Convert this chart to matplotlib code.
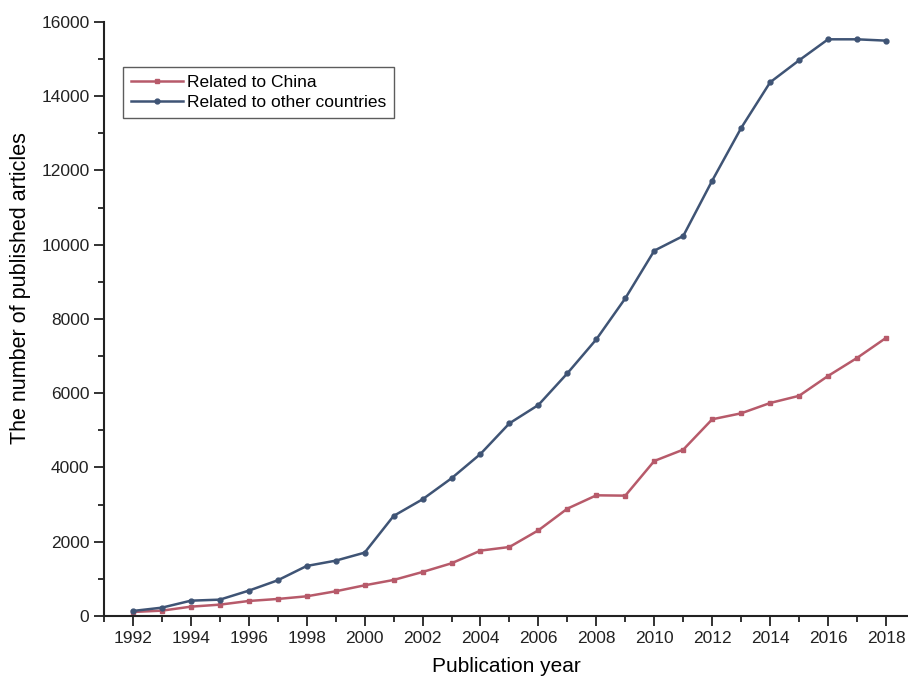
import matplotlib
matplotlib.use('Agg')
import matplotlib.pyplot as plt
import numpy as np
from matplotlib.ticker import MultipleLocator

plt.rcParams['font.family'] = ['Liberation Sans', 'DejaVu Sans']

years = list(range(1992, 2019))
china = [108, 143, 251, 305, 404, 458, 530, 665, 826, 970,
         1185, 1419, 1760, 1858, 2308, 2891, 3250, 3241, 4175, 4480,
         5298, 5459, 5737, 5930, 6465, 6950, 7490]
others = [135, 224, 412, 440, 682, 961, 1347, 1490, 1706, 2694,
          3143, 3709, 4364, 5190, 5684, 6537, 7452, 8557, 9840, 10236,
          11726, 13145, 14375, 14967, 15533, 15533, 15497]

red = '#b75a6a'
blue = '#3f5475'

fig = plt.figure(figsize=(9.08, 6.76), dpi=100)
ax = fig.add_axes([0.1145, 0.0888, 0.8855, 0.8787])

ax.plot(years, china, color=red, lw=1.8, marker='s', ms=3.5, label='Related to China')
ax.plot(years, others, color=blue, lw=1.8, marker='o', ms=3.5, label='Related to other countries')

ax.set_xlim(1991, 2018.76)
ax.set_ylim(0, 16000)
ax.xaxis.set_major_locator(MultipleLocator(2))
ax.xaxis.set_minor_locator(MultipleLocator(1))
ax.yaxis.set_major_locator(MultipleLocator(2000))
ax.yaxis.set_minor_locator(MultipleLocator(1000))

for s in ['top', 'right']:
    ax.spines[s].set_visible(False)
for s in ['left', 'bottom']:
    ax.spines[s].set_linewidth(1.5)
    ax.spines[s].set_color('#222222')

ax.tick_params(which='major', length=7, width=1.3, labelsize=12.5, colors='#222222')
ax.tick_params(which='minor', length=4, width=1.3, colors='#222222')

ax.set_xlabel('Publication year', fontsize=15, labelpad=8)
ax.set_ylabel('The number of published articles', fontsize=15.5)
ax.yaxis.set_label_coords(-0.091, 0.552)

leg = ax.legend(loc='upper left', bbox_to_anchor=(0.0237, 0.924), fontsize=12.5,
                frameon=True, fancybox=False, borderpad=0.45, handlelength=3.0,
                handletextpad=0.25, labelspacing=0.3, borderaxespad=0)
leg.get_frame().set_edgecolor('#333333')
leg.get_frame().set_linewidth(1.0)

fig.savefig('out.png', dpi=100)
